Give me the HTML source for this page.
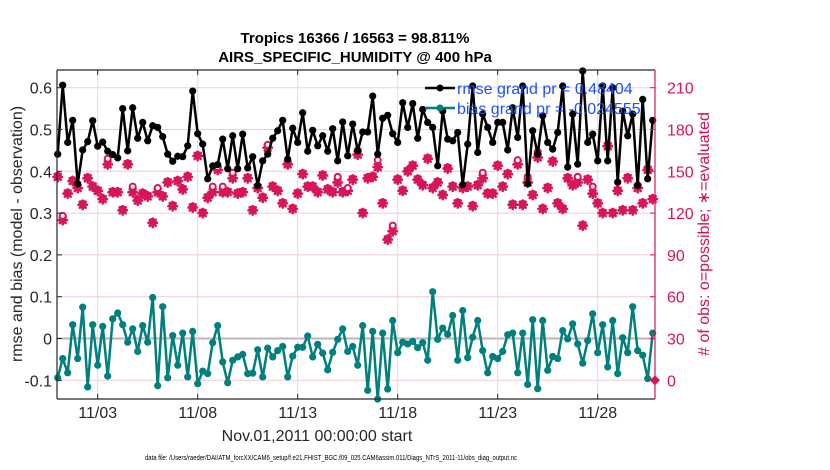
<!DOCTYPE html>
<html><head><meta charset="utf-8">
<style>
body{margin:0;background:#fff;width:830px;height:470px;overflow:hidden;font-family:"Liberation Sans",Arial,sans-serif;}
svg{display:block}
</style></head>
<body>
<svg id="chart" width="830" height="470" viewBox="0 0 830 470" xmlns="http://www.w3.org/2000/svg">
<g id="grid"></g>
<g id="series"></g>
<g id="axes"></g>
<text x="355" y="43" text-anchor="middle" font-size="15" font-weight="bold">Tropics 16366 / 16563 = 98.811%</text>
<text x="355" y="62" text-anchor="middle" font-size="15" font-weight="bold">AIRS_SPECIFIC_HUMIDITY @ 400 hPa</text>
<text transform="translate(22,234) rotate(-90)" text-anchor="middle" font-size="16" fill="#262626">rmse and bias (model - observation)</text>
<text transform="translate(709,234) rotate(-90)" text-anchor="middle" font-size="16" fill="#d4114f"># of obs: o=possible; ∗=evaluated</text>
<text x="317" y="441" text-anchor="middle" font-size="16" fill="#262626">Nov.01,2011 00:00:00 start</text>
<text x="145" y="460" font-size="7" textLength="372" lengthAdjust="spacingAndGlyphs" fill="#000">data file: /Users/raeder/DAI/ATM_forcXX/CAM6_setup/f.e21.FHIST_BGC.f09_025.CAM6assim.011/Diags_NTrS_2011-11/obs_diag_output.nc</text>
<g id="legend">
<line x1="425" y1="88" x2="455" y2="88" stroke="#000" stroke-width="2.5"/>
<circle cx="440" cy="88" r="3.5" fill="#000"/>
<line x1="425" y1="108" x2="455" y2="108" stroke="#007f7f" stroke-width="2.5"/>
<circle cx="440" cy="108" r="3.5" fill="#007f7f"/>
<text x="457" y="94" font-size="16" fill="#1a50ff">rmse grand pr = 0.48404</text>
<text x="457" y="114" font-size="16" fill="#1a50ff">bias grand pr = -0.024555</text>
</g>
</svg>
<script>
const rmse=[0.441,0.606,0.469,0.522,0.370,0.451,0.471,0.521,0.460,0.470,0.448,0.440,0.432,0.550,0.449,0.552,0.479,0.517,0.473,0.509,0.505,0.483,0.441,0.424,0.436,0.435,0.461,0.592,0.490,0.465,0.382,0.413,0.416,0.477,0.406,0.485,0.406,0.489,0.408,0.435,0.366,0.425,0.441,0.479,0.497,0.522,0.429,0.503,0.469,0.540,0.448,0.498,0.461,0.485,0.448,0.502,0.425,0.518,0.437,0.513,0.449,0.494,0.494,0.580,0.441,0.527,0.534,0.490,0.469,0.564,0.505,0.562,0.479,0.548,0.517,0.505,0.413,0.544,0.477,0.473,0.493,0.368,0.465,0.604,0.445,0.537,0.505,0.469,0.517,0.517,0.451,0.552,0.481,0.604,0.370,0.497,0.441,0.533,0.469,0.453,0.493,0.604,0.410,0.537,0.417,0.640,0.469,0.489,0.425,0.604,0.425,0.600,0.374,0.544,0.485,0.537,0.366,0.572,0.382,0.522];
const bias=[-0.094,-0.048,-0.082,0.033,-0.048,0.075,-0.116,0.033,-0.064,0.029,-0.090,0.047,0.061,0.033,-0.009,0.023,-0.031,0.031,-0.009,0.098,-0.113,0.076,-0.094,0.007,-0.064,0.013,-0.092,0.017,-0.108,-0.078,-0.084,-0.010,0.031,-0.056,-0.106,-0.052,-0.044,-0.038,-0.084,-0.083,-0.027,-0.092,-0.023,-0.044,-0.029,-0.019,-0.092,-0.042,-0.021,-0.021,0.006,-0.044,-0.014,-0.035,-0.075,-0.033,-0.002,0.023,-0.031,-0.019,-0.064,0.031,-0.124,0.017,-0.145,0.013,-0.121,0.043,-0.034,-0.009,-0.013,-0.007,-0.022,-0.010,-0.052,0.112,-0.002,0.025,0.010,0.055,-0.052,0.067,-0.046,0.003,0.043,-0.029,-0.082,-0.043,-0.048,-0.031,0.009,0.013,-0.082,0.013,-0.110,0.045,-0.120,0.043,-0.076,-0.043,-0.048,0.019,-0.001,0.035,-0.013,-0.059,-0.005,0.059,-0.034,0.033,-0.068,0.043,-0.084,0.002,-0.034,0.076,-0.029,-0.040,-0.096,0.013];
const nEval=[146,115,134,143,138,126,145,139,136,130,155,135,135,122,155,135,129,134,132,113,135,132,142,125,143,137,146,124,161,120,131,135,151,135,135,145,134,135,145,122,138,131,167,139,136,127,155,123,134,148,139,139,135,147,137,135,142,135,136,144,162,120,145,146,153,127,101,107,144,136,150,154,144,140,159,138,142,133,152,139,127,138,139,125,140,145,134,134,154,139,148,126,155,126,142,133,160,123,138,157,127,123,145,140,142,111,144,134,127,120,168,120,136,122,145,122,138,127,151,130];
const possExtraIdx=[1,10,15,20,31,32,33,35,42,56,58,60,64,67,85,92,94,96,104,107,116,118];
const possExtraVal=[3,4,4,3,4,2,4,4,2,4,2,3,5,4,4,3,4,4,4,5,2,1];
const leftTicks=[-0.1,0,0.1,0.2,0.3,0.4,0.5,0.6];
const rightTicks=[0,30,60,90,120,150,180,210];
const xTickDays=[2,7,12,17,22,27];
const xTickLabels=["11/03","11/08","11/13","11/18","11/23","11/28"];
const nPoss=nEval.map((v,i)=>{const k=possExtraIdx.indexOf(i);return k>=0?v+possExtraVal[k]:v;});

const L=57,R=655,T=70,B=399;
const xDay=d=>57.7+20*d;
const xIdx=i=>xDay(i*0.25);
const yL=v=>338.5-v*418;
const yR=c=>yL(c/300-0.1);
const NS="http://www.w3.org/2000/svg";
function mk(tag,attrs,parent){const e=document.createElementNS(NS,tag);for(const k in attrs)e.setAttribute(k,attrs[k]);parent.appendChild(e);return e;}
const grid=document.getElementById('grid'),ser=document.getElementById('series'),ax=document.getElementById('axes');

mk('rect',{x:L,y:T,width:R-L,height:B-T,fill:'#fff'},grid);
leftTicks.forEach(v=>{const g=mk('line',{x1:L,x2:R,y1:yL(v),y2:yL(v),stroke:v===0?'#bfb3b8':'#f2cbd8','stroke-width':v===0?2:1},grid);

});
xTickDays.forEach(d=>{const g=mk('line',{x1:xDay(d),x2:xDay(d),y1:T,y2:B,stroke:'#dcdcdc','stroke-width':1},grid);

});

const red='#d8145a';
function star(cx,cy,name){const g=mk('g',{stroke:red,'stroke-width':2.6,'stroke-linecap':'round'},ser);


for(let a=0;a<4;a++){const t=a*Math.PI/4,dx=4.2*Math.cos(t),dy=4.2*Math.sin(t);mk('line',{x1:cx-dx,y1:cy-dy,x2:cx+dx,y2:cy+dy},g);}
mk('circle',{cx:cx,cy:cy,r:2.6,fill:red,stroke:'none'},g);}
nEval.forEach((v,i)=>{
 const x=xIdx(i);
 if(nPoss[i]===v){const c=mk('circle',{cx:x,cy:yR(nPoss[i])-1,r:3,fill:'#fff',stroke:red,'stroke-width':2},ser);
  
  }
 star(x,yR(v),'evaluated-marker');
 if(nPoss[i]!==v){const c=mk('circle',{cx:x,cy:yR(nPoss[i]),r:3,fill:'#fff',stroke:red,'stroke-width':2},ser);
  
  }
});

function series(vals,color,name){
 const p=mk('polyline',{points:vals.map((v,i)=>xIdx(i)+','+yL(v)).join(' '),fill:'none',stroke:color,'stroke-width':2.5,'stroke-linejoin':'round'},ser);
 
 
 vals.forEach((v,i)=>{const c=mk('circle',{cx:xIdx(i),cy:yL(v),r:3.6,fill:color},ser);
  
  });
}
series(rmse,'#000','rmse');
series(bias,'#007f7f','bias');

const dm=mk('path',{d:`M${R-5},${yR(0)} L${R},${yR(0)-5} L${R+5},${yR(0)} L${R},${yR(0)+5} Z`,fill:red},ax);



mk('line',{x1:L,x2:R,y1:T,y2:T,stroke:'#262626','stroke-width':1.2},ax);
mk('line',{x1:L,x2:R,y1:B,y2:B,stroke:'#262626','stroke-width':1.2},ax);
mk('line',{x1:L,x2:L,y1:T,y2:B,stroke:'#262626','stroke-width':1.2},ax);
mk('line',{x1:R,x2:R,y1:T,y2:B,stroke:red,'stroke-width':1.2},ax);
leftTicks.forEach(v=>{mk('line',{x1:L,x2:L+5,y1:yL(v),y2:yL(v),stroke:'#262626'},ax);
 const t=mk('text',{x:L-5,y:yL(v)+6,'text-anchor':'end','font-size':16,fill:'#262626'},ax);t.textContent=String(v);
 
 });
rightTicks.forEach(c=>{mk('line',{x1:R-5,x2:R,y1:yR(c),y2:yR(c),stroke:red},ax);
 const t=mk('text',{x:R+12,y:yR(c)+6,'font-size':16,fill:red},ax);t.textContent=String(c);
 
 });
xTickDays.forEach((d,k)=>{mk('line',{x1:xDay(d),x2:xDay(d),y1:B,y2:B-5,stroke:'#262626'},ax);
 mk('line',{x1:xDay(d),x2:xDay(d),y1:T,y2:T+5,stroke:'#262626'},ax);
 const t=mk('text',{x:xDay(d),y:418,'text-anchor':'middle','font-size':16,fill:'#262626'},ax);t.textContent=xTickLabels[k];
 
 });
</script>
</body></html>
